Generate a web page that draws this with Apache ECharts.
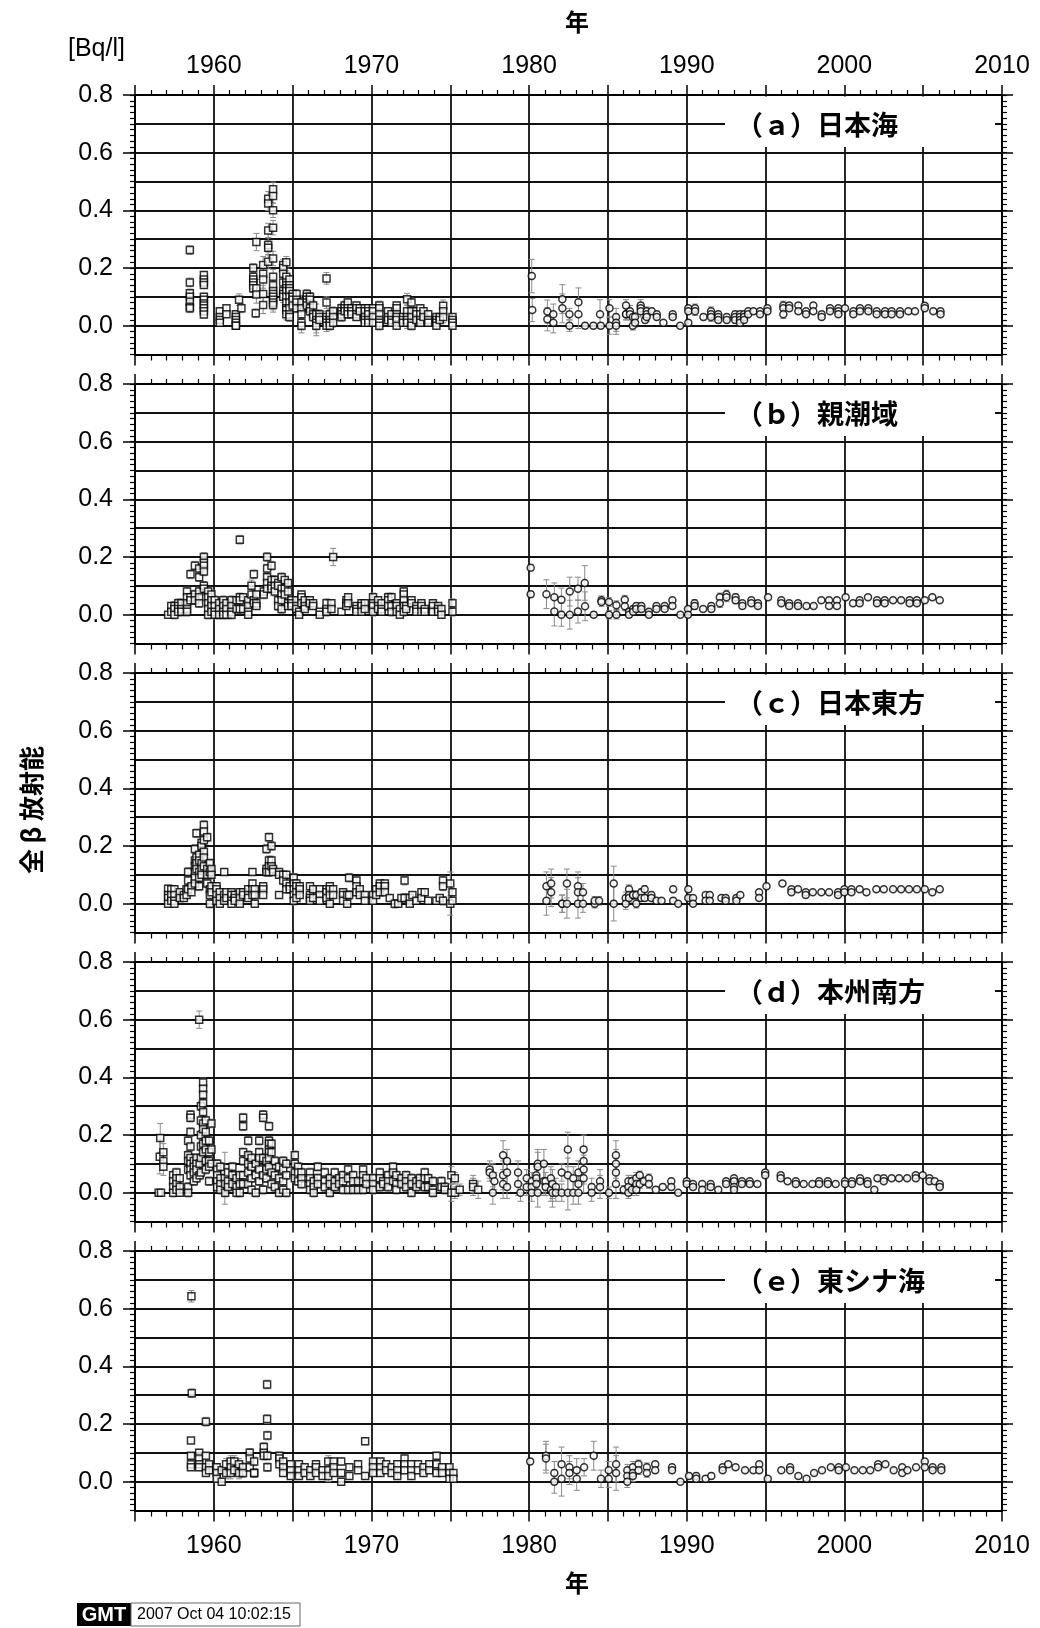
<!DOCTYPE html>
<html>
<head>
<meta charset="utf-8">
<script src="https://cdn.jsdelivr.net/npm/echarts@6/dist/echarts.min.js"></script>
<style>
  html, body { margin: 0; padding: 0; background: #fff; }
  #chart { width: 1040px; height: 1628px; }
</style>
</head>
<body>
<div id="chart"></div>
<script>
// 各列: [年, 誤差, 値, 値, ...]
const panelA = [
  [1958.48,.015,.262,.15,.112,.1,.083,.066,.06],
  [1959.37,.012,.176,.16,.15,.141,.1,.09,.077,.07,.06,.05,.039],
  [1960.38,.01,.05,.03,.02,.01],
  [1960.8,.01,.06,.04],
  [1961.4,.01,.04,.03,.02,.01,0,0],
  [1961.6,.02,.09],
  [1961.75,.015,.06],
  [1962.5,.015,.2,.17,.16,.15,.14,.13],
  [1962.66,.015,.043],
  [1962.7,.03,.29,.13,.108],
  [1963.13,.03,.21,.18,.16,.11,.072],
  [1963.45,.025,.44,.424,.33,.28,.27,.222],
  [1963.76,.025,.473,.45,.40,.34,.233,.17,.14,.12,.11,.10,.09,.08,.072],
  [1964.4,.02,.21,.2,.18,.15,.12,.11,.10],
  [1964.6,.02,.22,.17,.15,.14,.13,.12,.1,.08,.06,.054,.04],
  [1964.8,.015,.16,.14,.13,.12,.1,.08,.06,.04,.03],
  [1965.0,.015,.11,.10,.09,.07],
  [1965.25,.015,.11,.09,.08,.06],
  [1965.56,.025,.08,.06,.04,.01,0],
  [1965.9,.015,.11,.10,.09,.08,.07],
  [1966.1,.015,.10,.09,.06,.05],
  [1966.3,.015,.07,.04,.03],
  [1966.5,.035,.04,.02,.01,0],
  [1966.7,.015,.04,.03,.02],
  [1967.15,.02,.164,.08,.03,.02,.01,0],
  [1967.36,.015,.04,.02,.01,0],
  [1967.57,.015,.05,.03,.01],
  [1968.1,.015,.06,.05,.04,.03],
  [1968.3,.015,.07,.06,.05],
  [1968.5,.015,.08,.06,.05,.04],
  [1968.73,.012,.06,.05,.04],
  [1969.05,.012,.07,.06,.04,.03],
  [1969.26,.012,.06,.05],
  [1969.58,.012,.06,.05,.03,.02,.01],
  [1969.8,.012,.06,.05,.04,.02,.01],
  [1970.1,.012,.06,.05,.03,.01],
  [1970.5,.015,.07,.06,.04,.02,.01,0],
  [1971.05,.012,.05,.03,.02],
  [1971.27,.012,.04,.02,.01],
  [1971.6,.012,.07,.06,.04,.03,.02,0],
  [1972.0,.012,.03,.02,.01],
  [1972.26,.02,.092,.05,.03,.02,.01],
  [1972.54,.015,.08,.05,.03,.01,0],
  [1972.85,.012,.05,.04,.02],
  [1973.1,.012,.06,.04,.02,.01],
  [1973.3,.012,.05,.03],
  [1973.6,.012,.04,.02,.01],
  [1974.12,.01,.03,.02,.01,0],
  [1974.33,.01,.03,.02],
  [1974.55,.02,.069,.05,.03],
  [1975.14,.012,.03,.02,.01,0],
  [1980.17,.058,.172],
  [1980.2,.04,.054],
  [1981.16,.04,.049,.022],
  [1981.54,.035,.04,.01],
  [1982.11,.05,.092,.06],
  [1982.56,.02,.04,0],
  [1983.13,.05,.081,.04],
  [1983.55,.01,0],
  [1984.08,.01,0],
  [1984.5,.05,.04],
  [1984.55,.01,0],
  [1985.1,.03,.06,0],
  [1985.52,.03,.03,.01,0],
  [1986.15,.02,.07,.04,.04],
  [1986.4,.02,.05,.04],
  [1986.58,.015,.03,0],
  [1986.72,.015,.03,.01],
  [1987.08,.02,.07,.06,.05],
  [1987.36,.01,.02],
  [1987.46,.015,.05,.04,.03],
  [1987.78,.01,.05],
  [1988.1,.01,.04,.03],
  [1988.52,.008,.01],
  [1989.11,.008,.04,.03],
  [1989.58,.005,0],
  [1990.1,.01,.06,.05,.01],
  [1990.53,.015,.06,.05],
  [1991.06,.01,.03],
  [1991.54,.015,.05,.04,.03],
  [1992.0,.01,.04,.03,.02],
  [1992.54,.01,.03,.02],
  [1993.07,.01,.04,.03,.02],
  [1993.38,.01,.04,.03,.02,.01],
  [1993.64,.01,.04,.03,.02],
  [1993.9,.008,.05,.04],
  [1994.23,.008,.05],
  [1994.65,.008,.05,.04],
  [1995.12,.008,.06,.05],
  [1996.13,.015,.07,.06,.04],
  [1996.5,.008,.07,.06],
  [1997.08,.008,.07,.05],
  [1997.57,.008,.05,.04],
  [1998.03,.008,.07,.05],
  [1998.56,.008,.04,.03],
  [1999.09,.008,.06,.05],
  [1999.62,.008,.06,.05,.04],
  [2000.04,.008,.06],
  [2000.57,.008,.05,.04],
  [2000.99,.008,.06,.05],
  [2001.52,.008,.06,.05],
  [2002.05,.008,.05,.04],
  [2002.58,.008,.05,.04],
  [2003.0,.008,.05,.04],
  [2003.53,.008,.05,.04],
  [2004.06,.008,.05],
  [2004.48,.008,.05],
  [2005.1,.008,.069,.06],
  [2005.64,.008,.05],
  [2006.1,.008,.05,.04]
];

const panelB = [
  [1957.1,.008,0],
  [1957.3,.012,.03,.01],
  [1957.5,.015,.03,.02,0],
  [1957.74,.015,.04,.03,.02,.01],
  [1957.95,.015,.04,.02,.01],
  [1958.3,.015,.08,.06,.04,.02,.01],
  [1958.52,.015,.14,.06,.05],
  [1958.8,.015,.17,.07,.05],
  [1959.07,.015,.16,.13,.08,.06,.04],
  [1959.37,.015,.2,.18,.17,.15,.1,.09],
  [1959.64,.015,.08,.06,.04,.02,0],
  [1959.85,.015,.07,.05,.03,.01],
  [1960.06,.015,.05,.03,.01,0],
  [1960.34,.015,.04,.02,0],
  [1960.6,.015,.05,.03,.01,0],
  [1960.8,.015,.04,.02,0],
  [1961.12,.015,.05,.03,.01,0],
  [1961.44,.012,.05,.02],
  [1961.65,.015,.26,.06,.05,.02],
  [1961.86,.012,.06,.02],
  [1962.18,.012,.05,.03,.01,0],
  [1962.39,.02,.1,.07],
  [1962.54,.015,.14,.05,.04],
  [1962.7,.012,.07,.04,.03],
  [1963.17,.015,.08,.07],
  [1963.38,.015,.2,.16,.13,.11,.09],
  [1963.66,.015,.17,.12,.10,.09],
  [1963.87,.015,.12,.10,.08],
  [1964.08,.015,.11,.10,.05,.03],
  [1964.3,.015,.13,.09,.07,.05,.02],
  [1964.5,.012,.12,.09,.07],
  [1964.71,.012,.11,.08,.04,.03],
  [1964.93,.012,.05,.04,.03],
  [1965.24,.012,.05,.03,.02],
  [1965.41,.01,.01,0],
  [1965.56,.012,.07,.06,.04],
  [1965.77,.012,.05,.03,.02],
  [1966.09,.012,.05,.04],
  [1966.3,.012,.04,.03],
  [1966.72,.01,.01,0],
  [1967.15,.015,.04,.02,.01],
  [1967.46,.012,.04,.02],
  [1967.57,.03,.2],
  [1968.1,.01,.01],
  [1968.41,.012,.05,.04,.03],
  [1968.52,.012,.06,.04],
  [1969.05,.012,.03,.02,.01],
  [1969.37,.012,.04,.03,.01],
  [1969.58,.012,.04,.02],
  [1970.1,.015,.06,.04,.03,.01],
  [1970.42,.012,.05,.03,.02],
  [1970.64,.012,.04,.02,.01],
  [1971.06,.015,.06,.05,.03],
  [1971.27,.015,.06,.03,.01],
  [1971.6,.012,.04,.03,.01],
  [1971.8,.01,.02,0],
  [1972.05,.015,.08,.07,.05,.03,.01],
  [1972.2,.012,.03,.02],
  [1972.54,.012,.05,.04],
  [1972.85,.012,.03,.02,.01],
  [1973.17,.012,.04,.03,.01],
  [1973.38,.012,.02,.01],
  [1973.9,.012,.04,.03,.01],
  [1974.23,.012,.03,.02,.01],
  [1974.44,.012,.02,0],
  [1975.14,.015,.04,.01],
  [1980.1,.01,.163,.071],
  [1981.1,.05,.071],
  [1981.6,.05,.06,.011],
  [1982.05,.04,.052,0],
  [1982.58,.05,.08,0],
  [1983.1,.04,.09,.011],
  [1983.53,.06,.11],
  [1983.55,.05,.029],
  [1984.1,.01,0],
  [1984.59,.015,.05,.044],
  [1985.07,.015,.044,0],
  [1985.54,.015,.033,0],
  [1986.07,.015,.052,.029],
  [1986.34,.01,.01,0],
  [1986.6,.01,.02,.01],
  [1986.8,.01,.03,.02],
  [1987.12,.01,.03,.02],
  [1987.6,.008,.01,0],
  [1988.08,.008,.03,.02],
  [1988.6,.008,.03,.02],
  [1989.09,.008,.05,.03],
  [1989.6,.005,0],
  [1990.08,.008,.02,0],
  [1990.5,.012,.04,.03],
  [1991.04,.008,.02],
  [1991.56,.01,.03,.02],
  [1992.1,.015,.06,.04],
  [1992.52,.015,.07,.06],
  [1993.1,.012,.06,.05],
  [1993.53,.008,.04,.03],
  [1994.1,.008,.05,.04],
  [1994.52,.008,.04,.03],
  [1995.16,.008,.06],
  [1996.0,.008,.05,.04],
  [1996.5,.008,.04,.03],
  [1997.06,.008,.04,.03],
  [1997.6,.005,.03],
  [1998.05,.005,.03],
  [1998.54,.008,.05],
  [1999.03,.008,.05,.03],
  [1999.53,.008,.05,.03],
  [2000.08,.008,.06],
  [2000.55,.008,.04],
  [2000.97,.008,.05,.04],
  [2001.5,.008,.06],
  [2002.07,.008,.05,.04],
  [2002.56,.008,.05,.04],
  [2003.09,.008,.05],
  [2003.6,.008,.05],
  [2004.14,.008,.05,.04],
  [2004.6,.008,.05,.04],
  [2005.1,.008,.05],
  [2005.58,.008,.06],
  [2006.05,.008,.05]
];

const panelC = [
  [1957.1,.012,.052,.03,.02,0],
  [1957.3,.012,.05,.03,.01],
  [1957.5,.012,.05,.03,.01,0],
  [1957.84,.012,.04,.02],
  [1958.1,.012,.03,.02],
  [1958.27,.012,.05,.03],
  [1958.37,.015,.11,.08,.05],
  [1958.58,.012,.06,.04],
  [1958.8,.015,.19,.15,.13,.11,.09,.07],
  [1958.9,.015,.244,.16,.14,.12],
  [1959.07,.015,.17,.15,.11,.09,.06],
  [1959.22,.015,.21,.2,.14,.12,.1],
  [1959.37,.015,.273,.25,.22,.18,.16,.13],
  [1959.58,.015,.23,.12,.10,.07],
  [1959.75,.015,.14,.11,.05,.03,0],
  [1959.85,.015,.12,.10,.06,.04],
  [1960.17,.012,.06,.05,.03,.01],
  [1960.38,.012,.04,.02,0],
  [1960.66,.012,.11,.03,.01],
  [1960.8,.012,.04,.02],
  [1961.12,.012,.04,.03,.01,0],
  [1961.33,.012,.03,.02,.01],
  [1961.65,.012,.04,.02,0],
  [1961.86,.012,.04,.03],
  [1962.18,.012,.05,.03,.02],
  [1962.45,.012,.11,.07,.05,.03],
  [1962.6,.012,.05,.03,0],
  [1963.13,.012,.06,.05,.03],
  [1963.34,.015,.19,.12,.11],
  [1963.5,.015,.23,.15,.13,.11],
  [1963.66,.015,.20,.15,.13],
  [1963.76,.012,.12,.11],
  [1964.14,.012,.11,.1,.03],
  [1964.4,.012,.10,.08],
  [1964.6,.012,.10,.07,.05],
  [1964.82,.012,.06,.05],
  [1965.07,.015,.09,.07,.05,.03,.01],
  [1965.24,.012,.07,.06,.04,.02],
  [1965.45,.012,.06,.05,.03],
  [1966.1,.012,.06,.03,.02,.01],
  [1966.3,.012,.05,.02],
  [1966.72,.012,.05,.03,.01],
  [1967.15,.012,.05,.04,.02],
  [1967.36,.012,.06,.05,.03,0],
  [1967.57,.012,.05,.03],
  [1968.2,.012,.04,.03,.01],
  [1968.46,.012,.03,0],
  [1968.58,.015,.09,.03],
  [1969.05,.012,.08,.06,.04],
  [1969.26,.012,.05,.03],
  [1969.58,.012,.03,.01],
  [1970.1,.012,.03,.01],
  [1970.3,.012,.05,.03],
  [1970.53,.012,.07,.06,.04],
  [1970.85,.012,.07,.06,.04],
  [1971.16,.01,.02],
  [1971.48,.015,0],
  [1971.7,.01,0],
  [1971.9,.01,.02],
  [1972.1,.015,.08,.02],
  [1972.43,.01,.02,0],
  [1972.6,.01,.03],
  [1972.85,.01,.01],
  [1973.17,.012,.04,.02],
  [1973.38,.012,.04],
  [1973.6,.01,.01],
  [1974.12,.01,.01],
  [1974.33,.012,.02],
  [1974.54,.015,.08,.06,.01],
  [1975.0,.04,.07,0],
  [1975.14,.012,.04,.01],
  [1981.1,.05,.06,.01],
  [1981.4,.05,.07,.04],
  [1982.1,.03,0,0],
  [1982.4,.05,.07,0],
  [1983.1,.05,.06,.04,0],
  [1983.42,.03,.04,0],
  [1984.16,.015,0,.01],
  [1984.44,.015,.01],
  [1985.37,.06,.07,0],
  [1986.13,.02,.02,0],
  [1986.34,.015,.05,.03,.02],
  [1986.6,.015,.03,.03],
  [1986.8,.015,.03,0],
  [1987.12,.012,.04,.02],
  [1987.33,.012,.05,.02],
  [1987.76,.01,.03,.02],
  [1988.08,.008,.01],
  [1988.4,.008,.01],
  [1989.14,.01,.05,.01],
  [1989.46,.005,0],
  [1990.1,.01,.05,.02],
  [1990.4,.008,.02,0],
  [1991.2,.008,.03,.01],
  [1991.46,.008,.03,.01],
  [1992.2,.008,.02],
  [1992.47,.008,.02,.01],
  [1993.15,.008,.02,.01],
  [1993.4,.008,.03],
  [1994.59,.008,.04,.02],
  [1995.06,.008,.06],
  [1996.07,.008,.07],
  [1996.64,.008,.05,.04],
  [1997.06,.008,.05],
  [1997.55,.008,.04,.03],
  [1998.0,.005,.04],
  [1998.54,.005,.04],
  [1999.03,.005,.04],
  [1999.6,.008,.04,.03],
  [2000.0,.008,.05,.04],
  [2000.45,.008,.05,.04],
  [2000.97,.008,.05],
  [2001.4,.008,.04],
  [2002.03,.008,.05],
  [2002.5,.008,.05],
  [2003.09,.005,.05],
  [2003.6,.005,.05],
  [2004.1,.005,.05],
  [2004.6,.005,.05],
  [2005.1,.005,.05],
  [2005.58,.005,.04],
  [2006.05,.005,.05]
];

const panelD = [
  [1956.57,.06,.125],
  [1956.6,.05,.19],
  [1956.5,.005,0],
  [1956.65,.005,0],
  [1956.8,.03,.14,.11,.09],
  [1957.42,.015,.06,.04,.02,0],
  [1957.63,.015,.07,.05,.03,.01],
  [1957.84,.012,.05,.02,0],
  [1958.37,.015,.18,.13,.11,.08,.02,0],
  [1958.52,.015,.27,.26,.21,.16,.12,.10,.08,.06],
  [1958.73,.015,.11,.09,.07,.04],
  [1958.9,.015,.12,.10,.08,.05],
  [1959.07,.03,.60],
  [1959.1,.015,.10,.06],
  [1959.18,.015,.30,.25,.2,.16,.12,.07],
  [1959.32,.015,.382,.36,.34,.31,.28,.24,.22,.17,.14],
  [1959.49,.015,.25,.21,.18,.15,.11,.08],
  [1959.7,.015,.18,.14,.11,.09,.04],
  [1959.85,.015,.24,.15,.10],
  [1960.21,.015,.10,.08,.06,.04,.02],
  [1960.42,.015,.09,.05,.03,.01],
  [1960.7,.09,.05],
  [1960.72,.015,.03,0],
  [1960.9,.015,.07,.04,.02],
  [1961.18,.015,.09,.06,.03],
  [1961.44,.015,.05,.02,0],
  [1961.65,.015,.06,.03,0],
  [1961.86,.015,.26,.23,.14,.11,.06,.03],
  [1962.18,.015,.18,.13,.10,.07,.03],
  [1962.39,.015,.12,.09,.05,.01],
  [1962.66,.015,.10,.06,0],
  [1962.88,.015,.18,.14,.12,.08,.04],
  [1963.13,.015,.27,.26,.12,.06,.01],
  [1963.34,.015,.11,.08,.05],
  [1963.5,.015,.23,.18,.17,.15,.14,.12,.09],
  [1963.66,.015,.17,.14,.07,.03],
  [1963.87,.015,.11,.06,.02],
  [1964.14,.015,.09,.05,0],
  [1964.4,.015,.11,.08,.04,.01],
  [1964.6,.015,.10,.06,0],
  [1965.14,.015,.13,.10,.07,.05],
  [1965.35,.015,.09,.07,.04],
  [1965.56,.015,.07,.05,.03],
  [1966.1,.015,.07,.05,.03,.01],
  [1966.34,.015,.04,.02,0],
  [1966.6,.015,.09,.05,.03],
  [1967.04,.015,.07,.04,.02],
  [1967.36,.015,.05,.03,0],
  [1967.67,.015,.07,.04,.02],
  [1967.95,.015,.05,.03],
  [1968.2,.015,.06,.04,.01],
  [1968.52,.015,.08,.05,.01],
  [1968.84,.015,.06,.04,.01],
  [1969.15,.015,.04,.01],
  [1969.47,.015,.08,.06,.04,.01],
  [1969.68,.015,.05,.03],
  [1970.1,.015,.05,.03,.01],
  [1970.53,.015,.07,.05,.02],
  [1970.74,.015,.04,.03],
  [1971.06,.015,.06,.04,.02],
  [1971.37,.015,.09,.07,.04],
  [1971.58,.015,.06,.03,.01],
  [1971.9,.015,.05,.03],
  [1972.2,.015,.06,.04,.02],
  [1972.54,.015,.05,.03,0],
  [1972.85,.015,.04,.02],
  [1973.07,.015,.05,.03],
  [1973.38,.015,.07,.05,.02],
  [1973.6,.015,.05,.02],
  [1973.9,.015,.04,.01,0],
  [1974.44,.015,.04,.02],
  [1974.65,.015,.02,.01],
  [1975.07,.03,.06,0],
  [1975.29,.02,.05,0],
  [1975.6,.02,.01],
  [1976.45,.03,.03,.02],
  [1976.77,.03,.01],
  [1977.5,.03,.08,.07],
  [1977.7,.04,.06,0],
  [1977.8,.03,.04],
  [1978.35,.05,.13,.06,.03],
  [1978.6,.04,.11,.07,.02],
  [1979.3,.04,.07,.03],
  [1979.45,.03,0],
  [1979.85,.03,.05,.02],
  [1980.17,.03,.04,.02,0],
  [1980.46,.03,.06,.05,.03],
  [1980.55,.05,.10,.09,0],
  [1980.94,.05,.10,.04],
  [1981.05,.03,.04,.02],
  [1981.38,.04,.05,.01],
  [1981.48,.05,.03,0],
  [1981.7,.03,.02,0],
  [1982.07,.03,.07,0],
  [1982.46,.06,.15,.06,0],
  [1982.8,.04,.05,0],
  [1983.13,.04,.07,.03,0],
  [1983.46,.05,.15,.11,.08,.05],
  [1983.97,.03,.02,0],
  [1984.5,.04,.04,.02],
  [1985.07,.02,0],
  [1985.51,.05,.13,.10,.07,.03],
  [1986.0,.015,.01],
  [1986.3,.02,.04,.02,0],
  [1986.52,.02,.04,.01],
  [1986.8,.02,.05,.03,.01],
  [1987.02,.015,.06,.03],
  [1987.28,.015,.04],
  [1987.6,.015,.05,.03],
  [1988.04,.01,.01],
  [1988.48,.01,.02],
  [1989.02,.01,.04,.02],
  [1989.46,.005,0],
  [1990.0,.008,.04,.03],
  [1990.4,.008,.03,.02],
  [1990.98,.008,.03,.01],
  [1991.52,.008,.03,.02],
  [1992.0,.008,.01],
  [1992.5,.008,.04,.03],
  [1993.0,.008,.05,.04,.02,.01],
  [1993.5,.008,.04,.03],
  [1994.0,.008,.04,.03],
  [1994.48,.008,.03],
  [1994.98,.008,.07,.06],
  [1995.96,.008,.06,.05],
  [1996.4,.008,.04],
  [1996.92,.008,.04,.03],
  [1997.42,.005,.03],
  [1997.97,.005,.03],
  [1998.4,.008,.04,.03],
  [1998.95,.008,.04,.03],
  [1999.45,.005,.03],
  [2000.04,.008,.04,.03],
  [2000.48,.008,.04,.03],
  [2001.0,.008,.05,.04],
  [2001.47,.008,.04,.03],
  [2001.9,.005,.01],
  [2002.1,.008,.05],
  [2002.5,.008,.05,.04],
  [2003.0,.008,.05],
  [2003.47,.008,.05],
  [2003.98,.008,.05],
  [2004.53,.008,.06,.05],
  [2004.97,.008,.06],
  [2005.4,.008,.05,.04],
  [2005.73,.008,.04],
  [2006.05,.008,.03,.02]
];

const panelE = [
  [1958.58,.02,.643],
  [1958.6,.015,.307],
  [1958.55,.01,.143,.09,.06,.05],
  [1959.07,.012,.10,.08,.06,.05],
  [1959.5,.015,.208],
  [1959.5,.01,.09,.05,.03],
  [1959.7,.01,.06,.04],
  [1960.18,.012,.05,.03,.01],
  [1960.5,.012,.04,0],
  [1960.78,.02,.06,.03],
  [1961.07,.02,.07,.05,.03],
  [1961.3,.02,.07,.04],
  [1961.6,.02,.06,.03],
  [1961.85,.015,.05,.03],
  [1962.28,.015,.10,.08,.05],
  [1962.56,.015,.07,.03,.03],
  [1963.17,.015,.12,.10,.09],
  [1963.38,.015,.337,.217],
  [1963.4,.015,.16,.09,.05],
  [1964.16,.012,.09,.08,.06],
  [1964.4,.012,.07,.05,.03],
  [1964.88,.012,.06,.04,.02],
  [1965.4,.012,.06,.04,.02],
  [1965.76,.012,.05,.03],
  [1966.12,.012,.04,.02],
  [1966.48,.012,.06,.05,.03],
  [1966.9,.012,.04,.02],
  [1967.26,.02,.07,.04,.02],
  [1967.6,.012,.07,.05,.03],
  [1968.08,.012,.07,.03,0],
  [1968.6,.012,.05,.02],
  [1969.15,.012,.06,.04],
  [1969.6,.012,.14,.02],
  [1970.1,.012,.07,.05,.03],
  [1970.57,.012,.07,.05,.03],
  [1970.93,.012,.06,.04],
  [1971.28,.012,.05,.03],
  [1971.64,.012,.06,.04,.02],
  [1972.1,.012,.08,.06,.04],
  [1972.53,.012,.06,.04,.02],
  [1972.95,.012,.06,.04],
  [1973.3,.012,.05,.03],
  [1973.67,.012,.06,.04],
  [1974.13,.012,.09,.06,.03],
  [1974.48,.012,.05,.03],
  [1974.95,.012,.05,.03,.01],
  [1975.2,.012,.03,.01],
  [1980.07,.01,.07],
  [1981.07,.05,.09,.08],
  [1981.6,.04,.03,0],
  [1982.06,.06,.06,.01],
  [1982.56,.04,.05,.03],
  [1983.02,.04,.04,.01],
  [1983.49,.03,.05],
  [1984.1,.05,.09],
  [1984.56,.03,.01],
  [1985.05,.03,.04,.01],
  [1985.52,.06,.06,.03],
  [1986.23,.02,.04,.02,0],
  [1986.58,.02,.05,.03,.02],
  [1986.94,.015,.06,.04],
  [1987.47,.015,.05,.03],
  [1988.0,.01,.06,.04],
  [1989.07,.01,.05,.04],
  [1989.6,.005,0],
  [1990.14,.01,.02],
  [1990.6,.01,.02,.01],
  [1991.2,.01,.01],
  [1991.56,.01,.02],
  [1992.28,.008,.05,.04],
  [1992.63,.008,.06],
  [1993.1,.008,.05],
  [1993.7,.008,.04],
  [1994.23,.008,.04],
  [1994.6,.008,.06,.04],
  [1995.14,.005,.01],
  [1996.0,.005,.04],
  [1996.56,.005,.05,.04],
  [1997.08,.005,.02],
  [1997.6,.005,.01],
  [1998.08,.005,.03],
  [1998.58,.005,.04],
  [1999.14,.005,.05],
  [1999.64,.005,.05,.04],
  [2000.1,.005,.05],
  [2000.64,.005,.04],
  [2001.17,.005,.04],
  [2001.64,.005,.04],
  [2002.14,.005,.06,.05],
  [2002.6,.005,.06],
  [2003.13,.005,.04],
  [2003.67,.005,.05,.03],
  [2004.0,.005,.04],
  [2004.55,.005,.05],
  [2005.1,.005,.07,.05],
  [2005.6,.005,.05,.04],
  [2006.15,.005,.05,.04]
];

const panels = [panelA, panelB, panelC, panelD, panelE];
const panelNames = ['（ａ）日本海', '（ｂ）親潮域', '（ｃ）日本東方', '（ｄ）本州南方', '（ｅ）東シナ海'];
const yearTicks = { min: 1955, max: 2010, step: 5 };
const valueTicks = { min: -0.1, max: 0.8, step: 0.1 };

const LATIN = "'Liberation Sans', Arial, sans-serif";
const CJK = "'Noto Sans CJK JP', sans-serif";
const tops = [95, 384, 673, 962, 1251];
const gridLeft = 135, gridWidth = 867, gridHeight = 259.5;
const labelH = gridHeight * 0.8 / 0.9;

function expand(cols) {
  const pts = [];
  cols.forEach(c => {
    for (let k = 2; k < c.length; k++) pts.push([c[0], c[k], c[1]]);
  });
  return pts;
}

const black = { color: '#000', width: 2 };
const grids = [], xAxes = [], yAxes = [], series = [], graphics = [];

panels.forEach((cols, i) => {
  grids.push({ left: gridLeft, top: tops[i], width: gridWidth, height: gridHeight });
});
panels.forEach((cols, i) => {
  grids.push({ left: gridLeft, top: tops[i], width: gridWidth, height: labelH });
});

const yearLabel = (v) => (v % 10 === 0 ? String(v) : '');

panels.forEach((cols, i) => {
  // bottom axis (grid lines)
  xAxes.push({
    type: 'value', gridIndex: i, position: 'bottom',
    min: yearTicks.min, max: yearTicks.max, interval: yearTicks.step,
    axisLine: { onZero: false, lineStyle: black },
    axisTick: { length: 11, lineStyle: { color: '#000', width: 1.5 } },
    minorTick: { show: true, splitNumber: 5, length: 6, lineStyle: { color: '#000', width: 1.2 } },
    splitLine: { show: true, lineStyle: { color: '#111', width: 1.8 } },
    axisLabel: i === 4
      ? { show: true, fontSize: 25, fontFamily: LATIN, color: '#000', margin: 23, formatter: yearLabel }
      : { show: false }
  });
  // top axis
  xAxes.push({
    type: 'value', gridIndex: i, position: 'top',
    min: yearTicks.min, max: yearTicks.max, interval: yearTicks.step,
    axisLine: { onZero: false, lineStyle: black },
    axisTick: { length: 10, lineStyle: { color: '#000', width: 1.5 } },
    minorTick: { show: true, splitNumber: 5, length: 5, lineStyle: { color: '#000', width: 1.2 } },
    splitLine: { show: false },
    axisLabel: i === 0
      ? { show: true, fontSize: 25, fontFamily: LATIN, color: '#000', margin: 16, formatter: yearLabel }
      : { show: false }
  });
  // hidden x for label grid
  xAxes.push({ type: 'value', gridIndex: 5 + i, min: yearTicks.min, max: yearTicks.max, show: false });

  // main left y (grid lines, small ticks)
  yAxes.push({
    type: 'value', gridIndex: i, position: 'left',
    min: valueTicks.min, max: valueTicks.max, interval: valueTicks.step,
    axisLine: { show: true, onZero: false, lineStyle: black },
    axisTick: { show: true, length: 5, lineStyle: { color: '#000', width: 1.2 } },
    minorTick: { show: true, splitNumber: 5, length: 5, lineStyle: { color: '#000', width: 1.2 } },
    splitLine: { show: true, lineStyle: { color: '#111', width: 1.8 } },
    axisLabel: { show: false }
  });
  // main right y
  yAxes.push({
    type: 'value', gridIndex: i, position: 'right',
    min: valueTicks.min, max: valueTicks.max, interval: valueTicks.step,
    axisLine: { show: true, onZero: false, lineStyle: black },
    axisTick: { show: true, length: 5, lineStyle: { color: '#000', width: 1.2 } },
    minorTick: { show: true, splitNumber: 5, length: 5, lineStyle: { color: '#000', width: 1.2 } },
    splitLine: { show: false },
    axisLabel: { show: false }
  });
  // labelled y, 0.0 - 0.8 every 0.2
  yAxes.push({
    type: 'value', gridIndex: 5 + i, position: 'left',
    min: 0, max: 0.8, interval: 0.2,
    axisLine: { show: false },
    axisTick: { show: true, length: 12, lineStyle: { color: '#000', width: 1.5 } },
    splitLine: { show: false },
    axisLabel: { fontSize: 25, fontFamily: LATIN, color: '#000', margin: 22, formatter: v => v.toFixed(1) }
  });
  yAxes.push({
    type: 'value', gridIndex: 5 + i, position: 'right',
    min: 0, max: 0.8, interval: 0.2,
    axisLine: { show: false },
    axisTick: { show: true, length: 11, lineStyle: { color: '#000', width: 1.5 } },
    splitLine: { show: false },
    axisLabel: { show: false }
  });

  const pts = expand(cols);
  series.push({
    type: 'custom', xAxisIndex: 3 * i, yAxisIndex: 4 * i, z: 2,
    data: pts, encode: { x: 0, y: 1 },
    renderItem(params, api) {
      const x = api.value(0), y = api.value(1), e = api.value(2);
      const hi = api.coord([x, y + e]), lo = api.coord([x, y - e]);
      const style = { stroke: '#8a8a8a', lineWidth: 1 };
      return {
        type: 'group', children: [
          { type: 'line', shape: { x1: hi[0], y1: hi[1], x2: lo[0], y2: lo[1] }, style },
          { type: 'line', shape: { x1: hi[0] - 3, y1: hi[1], x2: hi[0] + 3, y2: hi[1] }, style },
          { type: 'line', shape: { x1: lo[0] - 3, y1: lo[1], x2: lo[0] + 3, y2: lo[1] }, style }
        ]
      };
    }
  });
  const markStyle = { color: '#fff', borderColor: '#000', borderWidth: 1.5 };
  series.push({
    type: 'scatter', xAxisIndex: 3 * i, yAxisIndex: 4 * i, z: 3,
    symbol: 'rect', symbolSize: 7, itemStyle: markStyle,
    data: pts.filter(p => p[0] < 1977).map(p => [p[0], p[1]])
  });
  series.push({
    type: 'scatter', xAxisIndex: 3 * i, yAxisIndex: 4 * i, z: 3,
    symbol: 'circle', symbolSize: 7, itemStyle: markStyle,
    data: pts.filter(p => p[0] >= 1977).map(p => [p[0], p[1]])
  });

  // panel label on a white box
  graphics.push({
    type: 'rect', z: 50, shape: { x: 725, y: tops[i] + 1.5, width: 270, height: 50.5 },
    style: { fill: '#fff' }
  });
  graphics.push({
    type: 'text', z: 51, x: 736, y: tops[i] + 30,
    style: { text: panelNames[i], font: 'bold 27px ' + CJK, fill: '#000', textAlign: 'left', textVerticalAlign: 'middle' }
  });
});

graphics.push(
  { type: 'text', x: 577, y: 22, style: { text: '年', font: 'bold 24px ' + CJK, fill: '#000', textAlign: 'center', textVerticalAlign: 'middle' } },
  { type: 'text', x: 577, y: 1583, style: { text: '年', font: 'bold 24px ' + CJK, fill: '#000', textAlign: 'center', textVerticalAlign: 'middle' } },
  { type: 'text', x: 68, y: 49, style: { text: '[Bq/l]', font: '25px ' + LATIN, fill: '#000', textAlign: 'left', textVerticalAlign: 'middle' } },
  { type: 'text', x: 31, y: 810, rotation: Math.PI / 2, style: { text: '全 β 放射能', font: 'bold 25px ' + CJK, fill: '#000', textAlign: 'center', textVerticalAlign: 'middle' } },
  // GMT stamp
  { type: 'rect', shape: { x: 77, y: 1603, width: 54, height: 23 }, style: { fill: '#000' } },
  { type: 'text', x: 104, y: 1615, style: { text: 'GMT', font: 'bold 20px ' + LATIN, fill: '#fff', textAlign: 'center', textVerticalAlign: 'middle' } },
  { type: 'rect', shape: { x: 131, y: 1603, width: 169, height: 23 }, style: { fill: '#fff', stroke: '#666', lineWidth: 1 } },
  { type: 'text', x: 137, y: 1615, style: { text: '2007 Oct 04 10:02:15', font: '16px ' + LATIN, fill: '#000', textAlign: 'left', textVerticalAlign: 'middle' } }
);

const chart = echarts.init(document.getElementById('chart'), null, { renderer: 'canvas' });
chart.setOption({
  backgroundColor: '#fff',
  animation: false,
  grid: grids,
  xAxis: xAxes,
  yAxis: yAxes,
  series: series,
  graphic: { elements: graphics }
});
</script>
</body>
</html>
